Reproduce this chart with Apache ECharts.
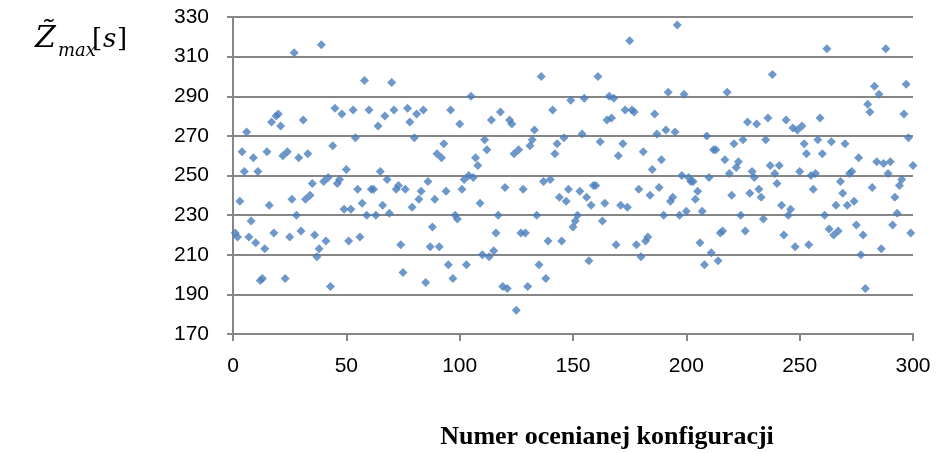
<!DOCTYPE html>
<html>
<head>
<meta charset="utf-8">
<script src="https://cdn.jsdelivr.net/npm/echarts@6/dist/echarts.min.js"></script>
<style>
  html, body { margin: 0; padding: 0; background: #fff; }
  #chart { width: 936px; height: 453px; }
</style>
</head>
<body>
<div id="chart"></div>
<script>
// wartości Z~max dla kolejnych konfiguracji (1..300)
var values001_050 = [221, 219, 237, 262, 252, 272, 219, 227, 259, 216,
                     252, 197, 198, 213, 262, 235, 277, 221, 280, 281,
                     275, 260, 198, 262, 219, 238, 312, 230, 259, 222,
                     278, 238, 261, 240, 246, 220, 209, 213, 316, 247,
                     217, 249, 194, 265, 284, 246, 248, 281, 233, 253];
var values051_100 = [217, 233, 283, 269, 243, 219, 236, 298, 230, 283,
                     243, 243, 230, 275, 252, 235, 280, 248, 231, 297,
                     283, 243, 245, 215, 201, 243, 284, 277, 234, 269,
                     281, 238, 242, 283, 196, 247, 214, 224, 238, 261,
                     214, 259, 266, 242, 205, 283, 198, 230, 228, 276];
var values101_150 = [243, 248, 205, 250, 290, 249, 259, 255, 236, 210,
                     268, 263, 209, 278, 212, 221, 230, 282, 194, 244,
                     193, 278, 276, 261, 182, 263, 221, 243, 221, 194,
                     265, 268, 273, 230, 205, 300, 247, 198, 217, 248,
                     283, 261, 266, 239, 217, 269, 237, 243, 288, 224];
var values151_200 = [227, 230, 242, 271, 289, 239, 207, 235, 245, 245,
                     300, 267, 227, 236, 278, 290, 279, 289, 215, 260,
                     235, 266, 283, 234, 318, 283, 282, 215, 243, 209,
                     262, 217, 219, 240, 253, 281, 271, 244, 258, 230,
                     273, 292, 237, 239, 272, 326, 230, 250, 291, 232];
var values201_250 = [249, 247, 247, 238, 242, 216, 232, 205, 270, 249,
                     211, 263, 263, 207, 221, 222, 258, 292, 251, 240,
                     266, 254, 257, 230, 268, 222, 277, 241, 252, 249,
                     276, 243, 239, 228, 268, 279, 255, 301, 251, 246,
                     255, 235, 220, 278, 230, 233, 274, 214, 273, 252];
var values251_300 = [275, 266, 261, 215, 250, 243, 251, 268, 279, 261,
                     230, 314, 223, 267, 220, 235, 222, 247, 241, 266,
                     235, 251, 252, 237, 225, 259, 210, 220, 193, 286,
                     282, 244, 295, 257, 291, 213, 256, 314, 251, 257,
                     225, 239, 231, 245, 248, 281, 296, 269, 221, 255];

var xTicks = [0, 50, 100, 150, 200, 250, 300];
var yTicks = [170, 190, 210, 230, 250, 270, 290, 310, 330];

var values = [].concat(values001_050, values051_100, values101_150,
                       values151_200, values201_250, values251_300);
var points = values.map(function (v, i) { return [i + 1, v]; });

var gridColor = '#868686';
var labelFont = 'Liberation Sans';

var myChart = echarts.init(document.getElementById('chart'), null, { renderer: 'canvas' });
myChart.setOption({
    animation: false,
    backgroundColor: '#fff',
    grid: { left: 233, right: 23, top: 17, bottom: 119 },
    xAxis: {
        type: 'value',
        min: xTicks[0],
        max: xTicks[xTicks.length - 1],
        interval: xTicks[1] - xTicks[0],
        axisLine: { show: true, lineStyle: { color: gridColor, width: 2 } },
        axisTick: { show: true, length: 7, lineStyle: { color: gridColor, width: 2 } },
        splitLine: { show: false },
        axisLabel: { color: '#000', fontFamily: labelFont, fontSize: 21, margin: 22 }
    },
    yAxis: {
        type: 'value',
        min: yTicks[0],
        max: yTicks[yTicks.length - 1],
        interval: yTicks[1] - yTicks[0],
        axisLine: { show: true, lineStyle: { color: gridColor, width: 2 } },
        axisTick: { show: true, length: 6, lineStyle: { color: gridColor, width: 2 } },
        splitLine: { show: true, lineStyle: { color: gridColor, width: 2 } },
        axisLabel: { color: '#000', fontFamily: labelFont, fontSize: 21, margin: 24 }
    },
    graphic: [
        // tytuł osi Y: Z~max [s]
        { type: 'text', left: 35, top: 24,
          style: { text: 'Z\u0303', fill: '#000', font: 'italic 30px "DejaVu Serif"' } },
        { type: 'text', left: 58, top: 42,
          style: { text: 'max', fill: '#000', font: 'italic 18px "DejaVu Serif"' } },
        { type: 'text', left: 92, top: 27,
          style: { text: '[', fill: '#000', font: '26px "DejaVu Serif"' } },
        { type: 'text', left: 103, top: 27,
          style: { text: 's', fill: '#000', font: 'italic 26px "DejaVu Serif"' } },
        { type: 'text', left: 117, top: 27,
          style: { text: ']', fill: '#000', font: '26px "DejaVu Serif"' } },
        // tytuł osi X
        { type: 'text', x: 607, y: 437,
          style: { text: 'Numer ocenianej konfiguracji', fill: '#000',
                   font: 'bold 26px "Liberation Serif"',
                   textAlign: 'center', textVerticalAlign: 'middle' } }
    ],
    series: [{
        type: 'scatter',
        data: points,
        symbol: 'diamond',
        symbolSize: 9,
        itemStyle: { color: '#4a7ebb' }
    }]
});
</script>
</body>
</html>
